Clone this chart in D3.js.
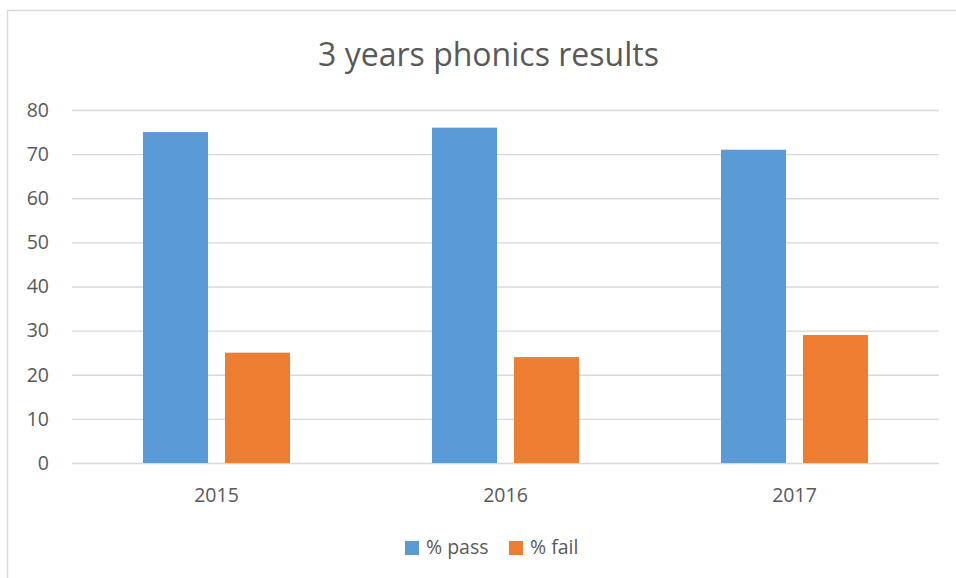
<!DOCTYPE html>
<html>
<head>
<meta charset="utf-8">
<script src="https://cdn.jsdelivr.net/npm/d3@7"></script>
<style>
  html, body { margin: 0; padding: 0; background: #fff; }
  svg { display: block; }
  text { font-family: "Open Sans", "Liberation Sans", sans-serif; fill: #595959; }
</style>
</head>
<body>
<svg id="chart" width="956" height="578"></svg>
<script>
const title = "3 years phonics results";
const categories = ["2015", "2016", "2017"];
const seriesNames = ["% pass", "% fail"];
const passValues = [75, 76, 71];
const failValues = [25, 24, 29];
const yTicks = [0, 10, 20, 30, 40, 50, 60, 70, 80];
const colors = ["#5b9bd5", "#ed7d31"];

(function () {
const svg = d3.select("#chart");
svg.append("rect").attr("width", 956).attr("height", 578).attr("fill", "#fff");
svg.append("rect").attr("x", 7.5).attr("y", 10.5).attr("width", 1200).attr("height", 1200)
  .attr("fill", "none").attr("stroke", "#d9d9d9").attr("stroke-width", 1.5);

const plotLeft = 72, plotRight = 939, plotTop = 110, plotBottom = 463;
const y = d3.scaleLinear().domain([0, 80]).range([plotBottom, plotTop]);
const x0 = d3.scaleBand().domain(categories).range([plotLeft, plotRight]).paddingInner(0).paddingOuter(0);
const groupW = 147;
const x1 = d3.scaleBand().domain(seriesNames).range([0, groupW]).paddingInner(0.207).paddingOuter(0);

// gridlines + y labels
const yAxis = d3.axisLeft(y).tickValues(yTicks).tickSize(-(plotRight - plotLeft)).tickPadding(23);
const gy = svg.append("g").attr("transform", `translate(${plotLeft},0)`).call(yAxis);
gy.select(".domain").remove();
gy.selectAll(".tick line").attr("stroke", "#d9d9d9").attr("stroke-width", 1.3);
gy.selectAll(".tick text").attr("font-size", 19.5).style("fill", "#595959")
  .attr("font-family", "'Open Sans', sans-serif");

// bars
const data = categories.map((c, i) => ({ cat: c, vals: [passValues[i], failValues[i]] }));
const groups = svg.append("g").selectAll("g").data(data).join("g")
  .attr("transform", d => `translate(${x0(d.cat) + x0.bandwidth() / 2 - groupW / 2},0)`);
groups.selectAll("rect").data(d => d.vals.map((v, j) => ({ s: seriesNames[j], v, j }))).join("rect")
  .attr("x", d => x1(d.s)).attr("width", x1.bandwidth())
  .attr("y", d => y(d.v)).attr("height", d => y(0) - y(d.v))
  .attr("fill", d => colors[d.j]);

// x labels
svg.append("g").selectAll("text").data(categories).join("text")
  .attr("x", d => x0(d) + x0.bandwidth() / 2).attr("y", 502)
  .attr("text-anchor", "middle").attr("font-size", 19.5).text(d => d);

// title
const t = svg.append("text").attr("x", 488.5).attr("y", 66).attr("text-anchor", "middle")
  .attr("font-size", 32).attr("font-weight", 400).text(title);
const tw = t.node().getComputedTextLength();
t.attr("font-size", 32 * 341 / tw);

// legend
const legendX = [405, 509];
const lg = svg.append("g").selectAll("g").data(seriesNames).join("g")
  .attr("transform", (d, i) => `translate(${legendX[i]},541)`);
lg.append("rect").attr("width", 14).attr("height", 14).attr("fill", (d, i) => colors[i]);
lg.append("text").attr("x", 21).attr("y", 13).attr("font-size", 19.5).text(d => d);
})();
</script>
</body>
</html>
